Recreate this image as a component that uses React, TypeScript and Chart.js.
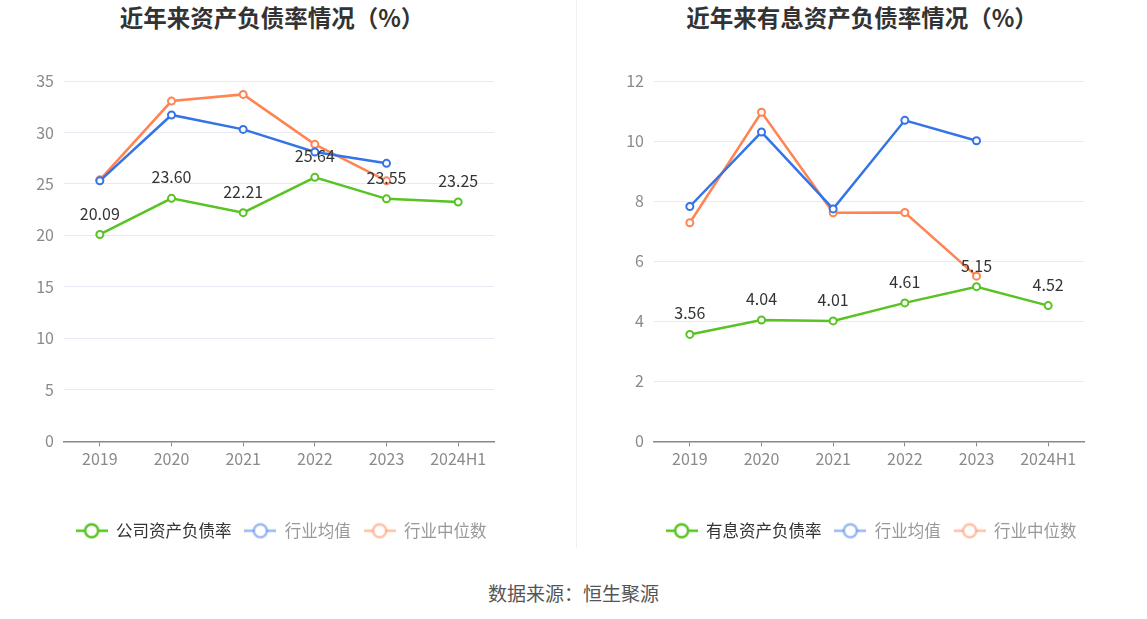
import { Chart, registerables } from "chart.js";
import { useEffect, useRef } from "react";

Chart.register(...registerables);

const years = ["2019", "2020", "2021", "2022", "2023", "2024H1"];

// 资产负债率
const debtRatio = [20.09, 23.6, 22.21, 25.64, 23.55, 23.25];
const debtAvg = [25.3, 31.7, 30.3, 28.1, 27.0, null];
const debtMedian = [25.4, 33.05, 33.7, 28.85, 25.3, null];

// 有息资产负债率
const interestRatio = [3.56, 4.04, 4.01, 4.61, 5.15, 4.52];
const interestAvg = [7.82, 10.3, 7.74, 10.69, 10.01, null];
const interestMedian = [7.28, 10.96, 7.61, 7.62, 5.5, null];

const GREEN = "#58c322";
const BLUE = "#3574e6";
const ORANGE = "#ff8452";
const FONT = '"Noto Sans CJK SC", "Noto Sans", sans-serif';

const makeIcon = (color: string) => {
    const c = document.createElement("canvas");
    c.width = 32;
    c.height = 18;
    const ctx = c.getContext("2d")!;
    ctx.strokeStyle = color;
    ctx.lineWidth = 2.5;
    ctx.beginPath();
    ctx.moveTo(0, 9);
    ctx.lineTo(32, 9);
    ctx.stroke();
    ctx.beginPath();
    ctx.arc(16, 9, 6.5, 0, Math.PI * 2);
    ctx.fillStyle = "#fff";
    ctx.fill();
    ctx.stroke();
    return c;
};

const valueLabels = {
    id: "valueLabels",
    afterDatasetsDraw(chart: any) {
        const { ctx } = chart;
        const meta = chart.getDatasetMeta(0);
        const values = chart.data.datasets[0].data;
        ctx.save();
        ctx.font = `16px ${FONT}`;
        ctx.fillStyle = "#333";
        ctx.textAlign = "center";
        ctx.textBaseline = "middle";
        meta.data.forEach((pt: any, i: number) => {
            ctx.fillText(values[i].toFixed(2), pt.x, pt.y - 21);
        });
        ctx.restore();
    },
};

type LineChartProps = {
    names: string[];
    series: (number | null)[][];
    max: number;
    step: number;
};

const LineChart = ({ names, series, max, step }: LineChartProps) => {
    const canvasRef = useRef<HTMLCanvasElement | null>(null);

    useEffect(() => {
        if (!canvasRef.current) return;
        const colors = [GREEN, BLUE, ORANGE];
        const iconColors = [GREEN, "rgba(53,116,230,0.5)", "rgba(255,132,82,0.5)"];
        const icons = iconColors.map(makeIcon);

        const chart = new Chart(canvasRef.current, {
            type: "line",
            data: {
                labels: years,
                datasets: series.map((data, i) => ({
                    label: names[i],
                    data,
                    borderColor: colors[i],
                    backgroundColor: "#fff",
                    borderWidth: 2.5,
                    pointRadius: 3.5,
                    pointBorderWidth: 2,
                    pointBackgroundColor: "#fff",
                    pointBorderColor: colors[i],
                    tension: 0,
                })),
            },
            options: {
                animation: false,
                responsive: true,
                maintainAspectRatio: false,
                layout: { padding: { left: 0, right: 0, top: 41, bottom: 11 } },
                scales: {
                    x: {
                        offset: true,
                        grid: {
                            display: true,
                            drawOnChartArea: false,
                            drawTicks: true,
                            tickLength: 5,
                            offset: false,
                            color: "#888",
                        },
                        border: { display: true, color: "#888", width: 1.5 },
                        ticks: { color: "#8a8a8a", font: { family: FONT, size: 16 }, padding: 3 },
                        afterFit(scale: any) {
                            scale.height += 38;
                        },
                    },
                    y: {
                        min: 0,
                        max,
                        ticks: { stepSize: step, color: "#8a8a8a", font: { family: FONT, size: 16 }, padding: 10 },
                        grid: { color: "#e6eaf3", drawTicks: false },
                        border: { display: false },
                        afterFit(scale: any) {
                            scale.width = 64;
                        },
                    },
                    // empty right-hand spacer so the legend centres under the plot
                    spacer: {
                        type: "linear",
                        position: "right",
                        grid: { display: false },
                        border: { display: false },
                        ticks: { display: false },
                        afterFit(scale: any) {
                            scale.width = 68;
                        },
                    },
                },
                plugins: {
                    legend: {
                        position: "bottom",
                        labels: {
                            usePointStyle: true,
                            pointStyleWidth: 32,
                            padding: 13,
                            font: { family: FONT, size: 16.5 },
                            generateLabels: () =>
                                names.map((name, i) => ({
                                    text: name,
                                    fontColor: i === 0 ? "#333" : "#999",
                                    pointStyle: icons[i],
                                    datasetIndex: i,
                                    hidden: false,
                                    lineWidth: 0,
                                    strokeStyle: "transparent",
                                    fillStyle: "transparent",
                                })),
                        },
                    },
                    tooltip: { enabled: false },
                },
            } as any,
            plugins: [valueLabels],
        });

        return () => {
            chart.destroy();
        };
    }, [names, series, max, step]);

    return (
        <div style={{ position: "relative", width: 562, height: 520 }}>
            <canvas ref={canvasRef} />
        </div>
    );
};

const titleStyle: React.CSSProperties = {
    position: "absolute",
    top: 0,
    width: 544,
    height: 34,
    lineHeight: "34px",
    textAlign: "center",
    fontFamily: FONT,
    fontWeight: "bold",
    fontSize: 23.5,
    color: "#333",
};

export default function App() {
    return (
        <div
            style={{
                position: "absolute",
                left: 0,
                top: 0,
                width: 1147,
                height: 619,
                background: "#fff",
                overflow: "hidden",
            }}
        >
            <div style={{ ...titleStyle, left: 0 }}>近年来资产负债率情况（%）</div>
            <div style={{ ...titleStyle, left: 590 }}>近年来有息资产负债率情况（%）</div>
            <div style={{ position: "absolute", left: 576, top: 0, width: 1, height: 548, background: "#f0f0f0" }} />
            <div style={{ position: "absolute", left: 0, top: 40 }}>
                <LineChart
                    names={["公司资产负债率", "行业均值", "行业中位数"]}
                    series={[debtRatio, debtAvg, debtMedian]}
                    max={35}
                    step={5}
                />
            </div>
            <div style={{ position: "absolute", left: 590, top: 40 }}>
                <LineChart
                    names={["有息资产负债率", "行业均值", "行业中位数"]}
                    series={[interestRatio, interestAvg, interestMedian]}
                    max={12}
                    step={2}
                />
            </div>
            <div
                style={{
                    position: "absolute",
                    left: 0,
                    width: 1147,
                    top: 578,
                    height: 30,
                    lineHeight: "30px",
                    textAlign: "center",
                    fontFamily: FONT,
                    fontSize: 19,
                    color: "#555",
                }}
            >
                数据来源：恒生聚源
            </div>
        </div>
    );
}
